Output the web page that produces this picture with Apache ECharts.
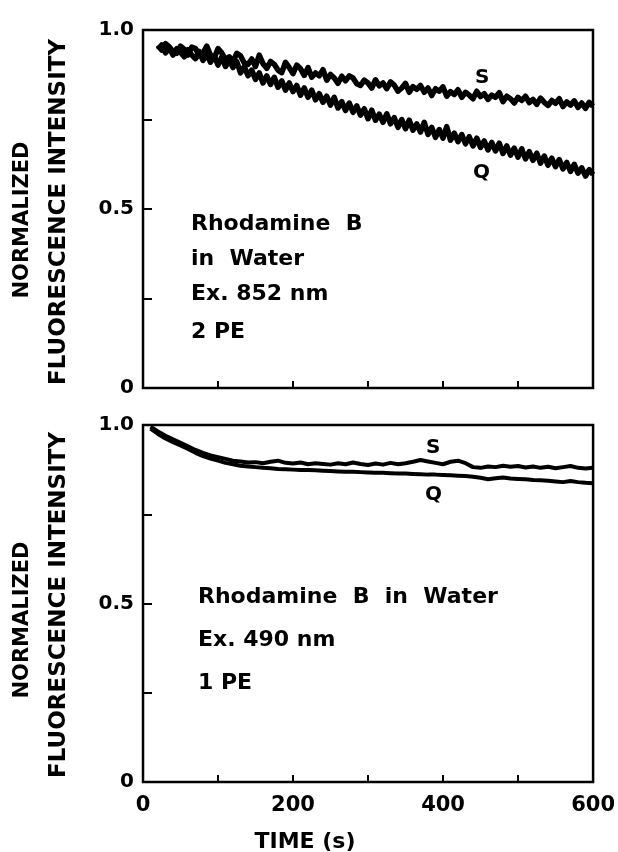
<!DOCTYPE html>
<html>
<head>
<meta charset="utf-8">
<script src="https://cdn.jsdelivr.net/npm/echarts@6/dist/echarts.min.js"></script>
<style>
  html, body { margin: 0; padding: 0; background: #fff; }
  #chart { width: 618px; height: 852px; }
</style>
</head>
<body>
<div id="chart"></div>
<script>
// top panel: 2 PE, Ex. 852 nm
const timeTop = [
  20, 25, 30, 35, 40, 45, 50, 55, 60, 65,
  70, 75, 80, 85, 90, 95, 100, 105, 110, 115,
  120, 125, 130, 135, 140, 145, 150, 155, 160, 165,
  170, 175, 180, 185, 190, 195, 200, 205, 210, 215,
  220, 225, 230, 235, 240, 245, 250, 255, 260, 265,
  270, 275, 280, 285, 290, 295, 300, 305, 310, 315,
  320, 325, 330, 335, 340, 345, 350, 355, 360, 365,
  370, 375, 380, 385, 390, 395, 400, 405, 410, 415,
  420, 425, 430, 435, 440, 445, 450, 455, 460, 465,
  470, 475, 480, 485, 490, 495, 500, 505, 510, 515,
  520, 525, 530, 535, 540, 545, 550, 555, 560, 565,
  570, 575, 580, 585, 590, 595, 600
];
const topS = [
  .958, .944, .962, .953, .940, .935, .955, .946, .930, .952,
  .948, .928, .935, .955, .930, .922, .948, .936, .918, .925,
  .912, .935, .928, .908, .904, .919, .898, .930, .906, .893,
  .912, .904, .888, .881, .910, .895, .878, .902, .892, .873,
  .895, .868, .880, .872, .889, .860, .876, .866, .851, .871,
  .858, .872, .866, .850, .845, .860, .852, .838, .861, .844,
  .852, .836, .855, .846, .829, .838, .851, .826, .842, .834,
  .845, .826, .838, .817, .836, .829, .841, .815, .828, .820,
  .833, .812, .826, .818, .808, .829, .814, .822, .806, .818,
  .812, .825, .800, .815, .808, .796, .812, .803, .815, .797,
  .806, .792, .810, .798, .789, .803, .795, .808, .786, .799,
  .790, .802, .784, .796, .781, .798, .787
];
const topQ = [
  .945, .958, .936, .950, .930, .948, .938, .925, .945, .930,
  .920, .940, .915, .932, .910, .928, .902, .925, .898, .915,
  .895, .912, .880, .898, .872, .888, .862, .880, .852, .872,
  .848, .868, .840, .858, .832, .852, .828, .845, .818, .838,
  .812, .832, .805, .822, .798, .815, .790, .812, .782, .800,
  .775, .796, .770, .788, .762, .780, .752, .776, .748, .765,
  .742, .766, .738, .755, .728, .750, .724, .748, .720, .738,
  .715, .742, .708, .728, .700, .722, .698, .730, .692, .712,
  .688, .708, .682, .702, .676, .698, .672, .690, .665, .686,
  .662, .684, .655, .676, .650, .670, .645, .668, .640, .660,
  .636, .656, .628, .648, .622, .642, .618, .638, .612, .630,
  .605, .625, .600, .615, .592, .610, .596
];

// bottom panel: 1 PE, Ex. 490 nm
const timeBottom = [
  10, 20, 30, 40, 50, 60, 70, 80, 90, 100,
  110, 120, 130, 140, 150, 160, 170, 180, 190, 200,
  210, 220, 230, 240, 250, 260, 270, 280, 290, 300,
  310, 320, 330, 340, 350, 360, 370, 380, 390, 400,
  410, 420, 430, 440, 450, 460, 470, 480, 490, 500,
  510, 520, 530, 540, 550, 560, 570, 580, 590, 600
];
const bottomS = [
  .995, .982, .970, .960, .950, .940, .930, .922, .915, .910,
  .905, .900, .898, .895, .896, .893, .897, .900, .894, .892,
  .895, .890, .893, .891, .889, .893, .890, .895, .891, .888,
  .892, .889, .894, .890, .893, .897, .902, .898, .894, .890,
  .897, .900, .893, .882, .880, .884, .882, .886, .883, .885,
  .881, .884, .880, .883, .879, .882, .885, .880, .878, .880
];
const bottomQ = [
  .990, .975, .962, .952, .943, .933, .922, .913, .906, .900,
  .894, .890, .886, .884, .882, .880, .879, .877, .876, .875,
  .874, .874, .873, .872, .871, .870, .869, .869, .868, .867,
  .866, .866, .865, .864, .864, .863, .862, .861, .861, .860,
  .859, .858, .857, .855, .852, .848, .851, .853, .850, .849,
  .848, .846, .845, .844, .842, .840, .843, .840, .838, .837
];

const yTickLabels = { 0: '0', 0.5: '0.5', 1: '1.0' };
const xTickLabels = { 0: '0', 200: '200', 400: '400', 600: '600' };

const font = 'DejaVu Sans';

function pairs(xs, ys) {
  return xs.map((x, i) => [x, ys[i]]);
}

const chart = echarts.init(document.getElementById('chart'));

function xAxisFor(idx, withLabels) {
  return {
    type: 'value', gridIndex: idx, min: 0, max: 600, interval: 100,
    axisLine: { show: false },
    axisTick: { show: true, inside: true, length: 7, lineStyle: { color: '#000', width: 2 } },
    splitLine: { show: false },
    axisLabel: {
      show: withLabels, margin: 13, color: '#000',
      fontFamily: font, fontWeight: 'bold', fontSize: 21,
      formatter: v => xTickLabels[v] || ''
    }
  };
}
function yAxisFor(idx) {
  return {
    type: 'value', gridIndex: idx, min: 0, max: 1, interval: 0.25,
    axisLine: { show: false },
    axisTick: { show: true, inside: true, length: 9, lineStyle: { color: '#000', width: 2 } },
    splitLine: { show: false },
    axisLabel: {
      margin: 9, color: '#000',
      fontFamily: font, fontWeight: 'bold', fontSize: 20,
      formatter: v => yTickLabels[v] || ''
    }
  };
}
function lineSeries(xi, data, w) {
  return {
    type: 'line', xAxisIndex: xi, yAxisIndex: xi, data: data,
    showSymbol: false, symbol: 'none', animation: false,
    lineStyle: { color: '#000', width: w, join: 'round' }
  };
}
function txt(x, y, s, size) {
  return {
    type: 'text', x: x, y: y,
    style: { text: s, fill: '#000', font: 'bold ' + size + 'px "' + font + '"', textAlign: 'left', textVerticalAlign: 'middle' }
  };
}
function vtxt(x, y, s, size) {
  return {
    type: 'text', x: x, y: y, rotation: Math.PI / 2,
    style: { text: s, fill: '#000', font: 'bold ' + size + 'px "' + font + '"', textAlign: 'center', textVerticalAlign: 'middle' }
  };
}

const option = {
  backgroundColor: '#fff',
  animation: false,
  grid: [
    { left: 143, top: 30, width: 450, height: 358, show: true, borderColor: '#000', borderWidth: 2.5 },
    { left: 143, top: 425, width: 451, height: 357, show: true, borderColor: '#000', borderWidth: 2.5 }
  ],
  xAxis: [xAxisFor(0, false), xAxisFor(1, true)],
  yAxis: [yAxisFor(0), yAxisFor(1)],
  series: [
    lineSeries(0, pairs(timeTop, topS), 5.5),
    lineSeries(0, pairs(timeTop, topQ), 5.5),
    lineSeries(1, pairs(timeBottom, bottomS), 4),
    lineSeries(1, pairs(timeBottom, bottomQ), 4)
  ],
  graphic: [
    vtxt(23, 220, 'NORMALIZED', 21),
    vtxt(59, 212, 'FLUORESCENCE INTENSITY', 23),
    vtxt(23, 620, 'NORMALIZED', 21),
    vtxt(59, 605, 'FLUORESCENCE INTENSITY', 23),
    txt(475, 78, 'S', 20),
    txt(473, 173, 'Q', 20),
    txt(191, 224, 'Rhodamine  B', 22),
    txt(191, 259, 'in  Water', 22),
    txt(191, 294, 'Ex. 852 nm', 22),
    txt(191, 332, '2 PE', 22),
    txt(426, 448, 'S', 20),
    txt(425, 495, 'Q', 20),
    txt(198, 597, 'Rhodamine  B  in  Water', 22),
    txt(198, 640, 'Ex. 490 nm', 22),
    txt(198, 683, '1 PE', 22),
    { type: 'text', x: 305, y: 842,
      style: { text: 'TIME (s)', fill: '#000', font: 'bold 22px "' + font + '"', textAlign: 'center', textVerticalAlign: 'middle' } }
  ]
};
chart.setOption(option);
</script>
</body>
</html>
